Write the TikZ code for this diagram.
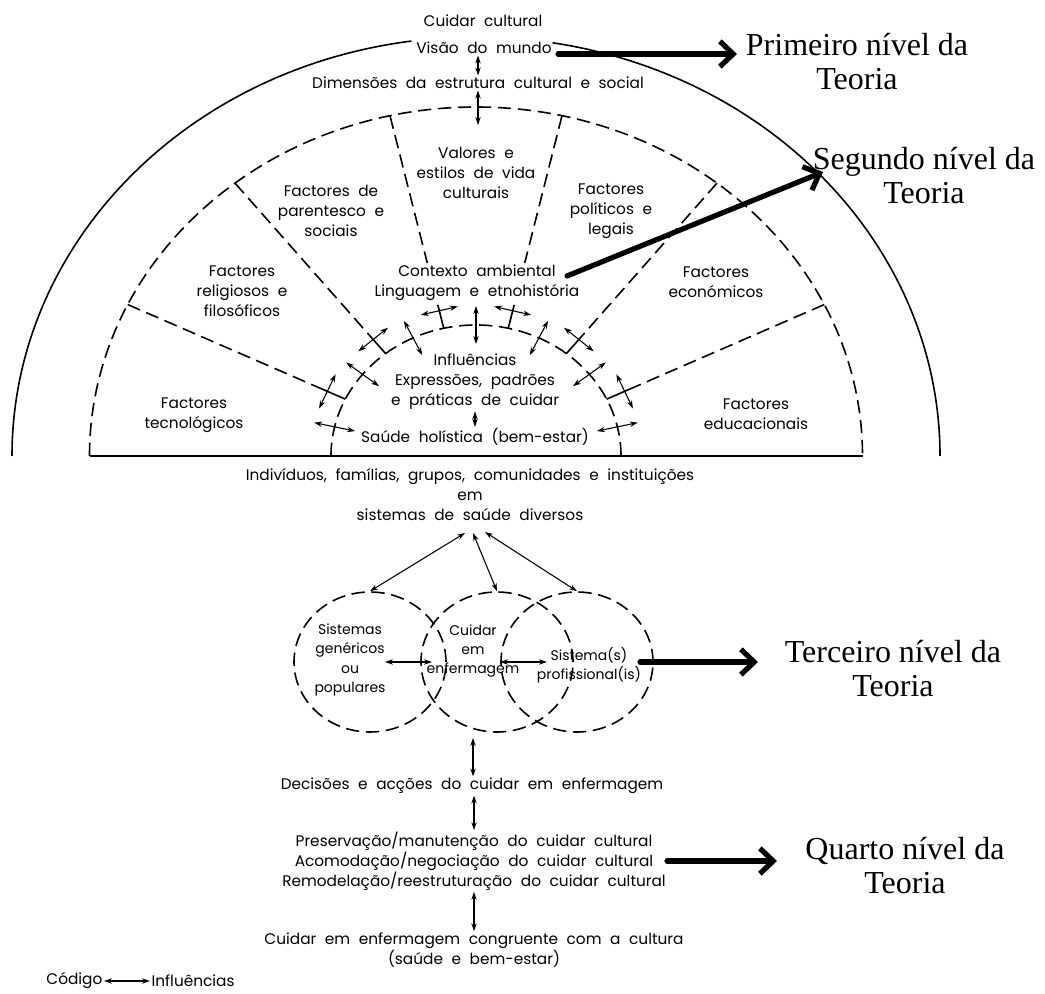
\documentclass[tikz,border=0pt]{standalone}
\usepackage{fontspec}
\setmainfont{Liberation Serif}
\newfontfamily\dgfont[WordSpace=2.1]{Poppins}
\usetikzlibrary{arrows.meta,calc,shapes.geometric}
\begin{document}
\begin{tikzpicture}[x=0.75pt,y=-0.75pt,
  txt/.style={font=\dgfont\fontsize{11.5}{15}\selectfont, align=center, inner sep=1pt},
  ctxt/.style={txt, font=\dgfont\fontsize{10.5}{14.5}\selectfont},
  lvl/.style={font=\fontsize{24}{25.5}\selectfont, align=center, inner sep=0pt},
  arcline/.style={line width=1.2pt},
  dsh/.style={line width=1.2pt, dash pattern=on 10pt off 5pt},
  dbl/.style={line width=0.8pt, {Stealth[length=6pt,width=4pt]}-{Stealth[length=6pt,width=4pt]}},
  fat/.style={line width=3.9pt, line cap=round, -{Straight Barb[length=10pt,width=19pt]}},
  sysc/.style={ellipse, draw, dsh, minimum width=114pt, minimum height=105pt, inner sep=0pt},
]
\useasboundingbox (0,0) rectangle (1045,994);

% ---------- sunrise half: arcs, base line, sectors ----------
\coordinate (C) at (476,456);
% outer solid arc, open at the top where the world view label sits
\draw[arcline] ($(C)+(180:464 and 419)$) arc[start angle=180, end angle=262, x radius=464, y radius=419];
\draw[arcline] ($(C)+(279.5:464 and 419)$) arc[start angle=279.5, end angle=360, x radius=464, y radius=419];
% dashed arc of the cultural and social structure dimensions
\draw[dsh] ($(C)+(180:386.5 and 349)$) arc[start angle=180, end angle=360, x radius=386.5, y radius=349];
% dashed inner arc of the care expressions
\draw[dsh] ($(C)+(180:145 and 131)$) arc[start angle=180, end angle=360, x radius=145, y radius=131];
% base line
\coordinate (bl) at (89.5,456);
\coordinate (br) at (862.5,456);
\draw[arcline] (bl) -- (br);

% sector dividers (seven sectors)
\foreach \k in {1,2,5,6}{
  \pgfmathsetmacro\t{360-\k*180/7}
  \coordinate (dA\k) at ($(C)+(\t:386.5 and 349)$);
  \coordinate (dB\k) at ($(C)+(\t:171.6 and 155)$);
  \draw[dsh] (dA\k) -- (dB\k);
}
\foreach \k in {3,4}{
  \pgfmathsetmacro\t{360-\k*180/7}
  \coordinate (dA\k) at ($(C)+(\t:386.5 and 349)$);
  \coordinate (dE\k) at ($(C)+(\t:219 and 198)$);
  \draw[dsh] (dA\k) -- (dE\k);
}
% ticks on the inner arc and crossing arrows
\foreach \k in {1,...,6}{
  \pgfmathsetmacro\t{360-\k*180/7}
  \coordinate (tO\k) at ($(C)+(\t:171.6 and 155)$);
  \coordinate (tI\k) at ($(C)+(\t:145 and 131)$);
  \draw[arcline] (tO\k) -- (tI\k);
  \coordinate (gP\k) at ($(C)+(\t:165 and 149)+(\t+90:19)$);
  \coordinate (gQ\k) at ($(C)+(\t:165 and 149)+(\t-90:19)$);
  \draw[dbl] (gP\k) -- (gQ\k);
}
% radial influence arrows across the inner arc
\foreach \j in {0,...,6}{
  \pgfmathsetmacro\t{360-(\j+0.5)*180/7}
  \coordinate (rO\j) at ($(C)+(\t:166 and 150)$);
  \coordinate (rI\j) at ($(C)+(\t:124 and 112)$);
  \draw[dbl] (rO\j) -- (rI\j);
}

% ---------- texts of the upper half ----------
\node[txt] (cuid) at (483,21) {Cuidar cultural};
\node[txt] (visao) at (484,48) {Visão do mundo};
\node[txt] (dim) at (478,83) {Dimensões da estrutura cultural e social};
\node[txt] (val) at (476,173) {Valores e\\estilos de vida\\culturais};
\node[txt] (par) at (331,211) {Factores de\\parentesco e\\sociais};
\node[txt] (rel) at (242,291) {Factores\\religiosos e\\filosóficos};
\node[txt] (tec) at (194,415) {Factores\\tecnológicos};
\node[txt] (pol) at (611,211) {Factores\\políticos e\\legais};
\node[txt] (eco) at (716,282) {Factores\\económicos};
\node[txt] (edu) at (756,414) {Factores\\educacionais};
\node[txt] (ctx) at (477,283) {Contexto ambiental\\Linguagem e etnohistória};
\node[txt] (inf) at (475,382) {Influências\\Expressões, padrões\\e práticas de cuidar};
\node[txt] (sau) at (475,437) {Saúde holística (bem-estar)};

\draw[dbl] (visao.south -| dim.north) -- (dim.north);
\coordinate (vtop) at (478,125);
\draw[dbl] (dim.south) -- (vtop);
\draw[dbl] (inf.south -| sau.north) -- (sau.north);

% ---------- health systems ----------
\node[txt] (ind) at (470,495) {Indivíduos, famílias, grupos, comunidades e instituições\\em\\sistemas de saúde diversos};
\node[sysc] (cL) at (370,662) {};
\node[sysc] (cM) at (497,662) {};
\node[sysc] (cR) at (577,662) {};
\node[ctxt] (tL) at (350,660) {Sistemas\\genéricos\\ou\\populares};
\node[ctxt] (tM) at (473,651) {Cuidar\\em\\enfermagem};
\node[ctxt] (tR) at (589,665) {Sistema(s)\\profissional(is)};

\coordinate (iL) at (465,533);
\coordinate (iM) at (473,533);
\coordinate (iR) at (485,532);
\draw[dbl] (iL) -- (cL.north);
\draw[dbl] (iM) -- (cM.north);
\draw[dbl] (iR) -- (cR.north);
\coordinate (hA) at (385,662);
\coordinate (hB) at (432,662);
\coordinate (hC) at (500,662);
\coordinate (hD) at (547,662);
\draw[dbl] (hA) -- (hB);
\draw[dbl] (hC) -- (hD);

% ---------- decisions and actions ----------
\node[txt] (dec) at (472,786) {Decisões e acções do cuidar em enfermagem};
\node[txt] (pres) at (474,861) {Preservação/manutenção do cuidar cultural\\Acomodação/negociação do cuidar cultural\\Remodelação/reestruturação do cuidar cultural};
\node[txt, font=\dgfont\fontsize{11.5}{13.5}\selectfont] (cong) at (474,950) {Cuidar em enfermagem congruente com a cultura\\(saúde e bem-estar)};
\coordinate (cbot) at (473,738);
\draw[dbl] (cbot) -- (cbot |- dec.north);
\draw[dbl] (dec.south -| pres.north) -- (pres.north);
\draw[dbl] (pres.south) -- (cong.north);

% legend
\node[txt, anchor=east] (cod) at (104,981) {Código};
\node[txt, anchor=west] (infl) at (150,981) {Influências};
\draw[dbl] (cod) -- (infl);

% ---------- levels of the theory ----------
\node[lvl] (l1) at (857,62) {Primeiro nível da\\Teoria};
\node[lvl] (l2) at (924,176) {Segundo nível da\\Teoria};
\node[lvl] (l3) at (893,669) {Terceiro nível da\\Teoria};
\node[lvl] (l4) at (905,866) {Quarto nível da\\Teoria};

\coordinate (a1s) at (558,54);   \coordinate (a1e) at (737,54);
\coordinate (a2s) at (567,276);  \coordinate (a2e) at (823,172);
\coordinate (a3s) at (640,662);  \coordinate (a3e) at (758,662);
\coordinate (a4s) at (667,861);  \coordinate (a4e) at (777,861);
\draw[fat] (a1s) -- (a1e);
\draw[fat] (a2s) -- (a2e);
\draw[fat] (a3s) -- (a3e);
\draw[fat] (a4s) -- (a4e);
\end{tikzpicture}
\end{document}
